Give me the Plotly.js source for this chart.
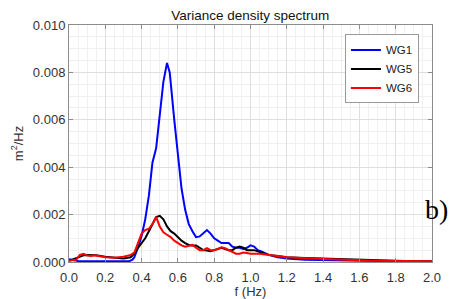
<!DOCTYPE html>
<html><head><meta charset="utf-8">
<script src="https://cdn.plot.ly/plotly-3.0.1.min.js"></script>
<style>html,body{margin:0;padding:0;background:#fff;}#chart{width:451px;height:299px;}</style>
</head><body><div id="chart"></div>
<script>
// Frequency (Hz) and variance density (m^2/Hz)
const f_WG1 = [0,0.02,0.05,0.1,0.2,0.3,0.33,0.35,0.36,0.38,0.40,0.42,0.44,0.46,0.48,0.50,0.52,0.54,0.555,0.58,0.60,0.62,0.64,0.66,0.68,0.70,0.72,0.74,0.76,0.78,0.80,0.82,0.84,0.86,0.88,0.90,0.92,0.94,0.96,0.98,1.00,1.02,1.04,1.06,1.10,1.15,1.20,1.30,1.40,1.60,1.80,2.00];
const s_WG1 = [0.00012,0.0001,0.00004,0.00003,0.00002,0.00002,0.00003,0.0001,0.0002,0.0006,0.0011,0.0018,0.0028,0.0042,0.0048,0.0062,0.0076,0.0084,0.0080,0.0060,0.0044,0.0031,0.0022,0.0016,0.0013,0.00105,0.00108,0.0012,0.00135,0.0012,0.0010,0.0009,0.0008,0.0008,0.0008,0.00065,0.0006,0.0006,0.00055,0.0006,0.0007,0.00065,0.0005,0.00045,0.0003,0.0002,0.00015,0.0001,0.00008,0.00005,0.00003,0.00002];
const f_WG5 = [0,0.05,0.08,0.10,0.15,0.20,0.25,0.30,0.34,0.36,0.38,0.40,0.42,0.44,0.46,0.48,0.50,0.52,0.54,0.56,0.58,0.60,0.62,0.64,0.66,0.68,0.70,0.72,0.74,0.76,0.78,0.80,0.82,0.84,0.86,0.88,0.90,0.92,0.94,0.96,0.98,1.00,1.02,1.04,1.06,1.10,1.15,1.20,1.30,1.40,1.50,1.60,1.70,1.80,1.90,2.00];
const s_WG5 = [0.00005,0.0002,0.00028,0.0003,0.00028,0.00022,0.00018,0.00015,0.0002,0.00035,0.0006,0.0008,0.001,0.0013,0.0016,0.0019,0.00195,0.0018,0.0015,0.0013,0.0012,0.00105,0.0009,0.0008,0.00072,0.0007,0.0007,0.0006,0.0005,0.00048,0.00045,0.0005,0.00055,0.0006,0.00055,0.0005,0.0005,0.0006,0.00065,0.0006,0.0005,0.0005,0.0005,0.00045,0.0004,0.0003,0.00025,0.0002,0.00017,0.00014,0.00012,0.0001,0.00008,0.00005,0.00003,0.00002];
const f_WG6 = [0,0.04,0.06,0.08,0.10,0.12,0.14,0.16,0.18,0.20,0.25,0.30,0.34,0.36,0.38,0.40,0.42,0.44,0.46,0.48,0.50,0.52,0.54,0.56,0.58,0.60,0.62,0.64,0.66,0.68,0.70,0.72,0.74,0.76,0.78,0.80,0.82,0.84,0.86,0.88,0.90,0.92,0.94,0.96,0.98,1.00,1.05,1.10,1.15,1.20,1.30,1.40,1.50,1.60,1.70,1.80,2.00];
const s_WG6 = [0.00005,0.0001,0.0003,0.00035,0.00028,0.00025,0.00028,0.00025,0.0002,0.0002,0.00018,0.00022,0.0003,0.0004,0.0008,0.0012,0.00135,0.0014,0.0016,0.0019,0.0015,0.00125,0.00115,0.00105,0.0009,0.0008,0.0007,0.00065,0.00068,0.00072,0.0006,0.0005,0.0005,0.00058,0.0005,0.0005,0.00055,0.00062,0.00058,0.0005,0.0004,0.00035,0.00035,0.0004,0.00038,0.00035,0.00035,0.0003,0.00025,0.0002,0.00016,0.00012,0.0001,0.00007,0.00005,0.00004,0.00003];
const seriesNames = ['WG1','WG5','WG6'];
const seriesColors = ['#0000ff','#000000','#ff0000'];

const xs = [f_WG1, f_WG5, f_WG6];
const ys = [s_WG1, s_WG5, s_WG6];
const data = seriesNames.map((n,i)=>({
  x: xs[i], y: ys[i], name: n, type:'scatter', mode:'lines',
  line:{color: seriesColors[i], width:2}
}));

const FONT = 'Liberation Sans, Arial, sans-serif';
const axisCommon = {
  showline:true, linecolor:'#8c8c8c', linewidth:1, mirror:'ticks',
  ticks:'inside', ticklen:4, tickcolor:'#8c8c8c',
  showgrid:true, gridcolor:'#dedede', gridwidth:1, zeroline:false,
  tickfont:{family:FONT, size:13, color:'#333'}
};
const layout = {
  width:451, height:299,
  margin:{l:69, r:19, t:24.5, b:37},
  paper_bgcolor:'#fff', plot_bgcolor:'#fff',
  showlegend:true,
  title:{text:'Variance density spectrum', font:{family:FONT, size:13.5, color:'#111'}, x:0.555, xanchor:'center', y:1-15.5/299, yanchor:'middle', yref:'container'},
  xaxis:Object.assign({}, axisCommon, {
    range:[0,2], dtick:0.2, tick0:0, tickformat:'.1f', ticklabelstandoff:3,
    minor:{dtick:0.05, showgrid:true, gridcolor:'#f0f0f0', gridwidth:1},
    title:{text:'f (Hz)', font:{family:FONT, size:13, color:'#333'}, standoff:3}
  }),
  yaxis:Object.assign({}, axisCommon, {
    range:[0,0.01], dtick:0.002, tick0:0, tickformat:'.3f',
    minor:{dtick:0.0005, showgrid:true, gridcolor:'#f0f0f0', gridwidth:1},
    title:{text:'m<sup>2</sup>/Hz', font:{family:FONT, size:13, color:'#333'}, standoff:6}
  }),
  legend:{x:0.964, y:0.96, xanchor:'right', yanchor:'top', bgcolor:'#fff', bordercolor:'#9a9a9a', borderwidth:1,
    font:{family:FONT, size:11.5, color:'#222'}, tracegroupgap:0, itemwidth:30},
  annotations:[{text:'b)', xref:'paper', yref:'paper', x:0.975, y:0.22, xanchor:'left', yanchor:'middle', showarrow:false,
    font:{family:'Liberation Serif, Times New Roman, serif', size:28, color:'#000'}}]
};
Plotly.newPlot('chart', data, layout, {displayModeBar:false, staticPlot:true});
</script></body></html>
